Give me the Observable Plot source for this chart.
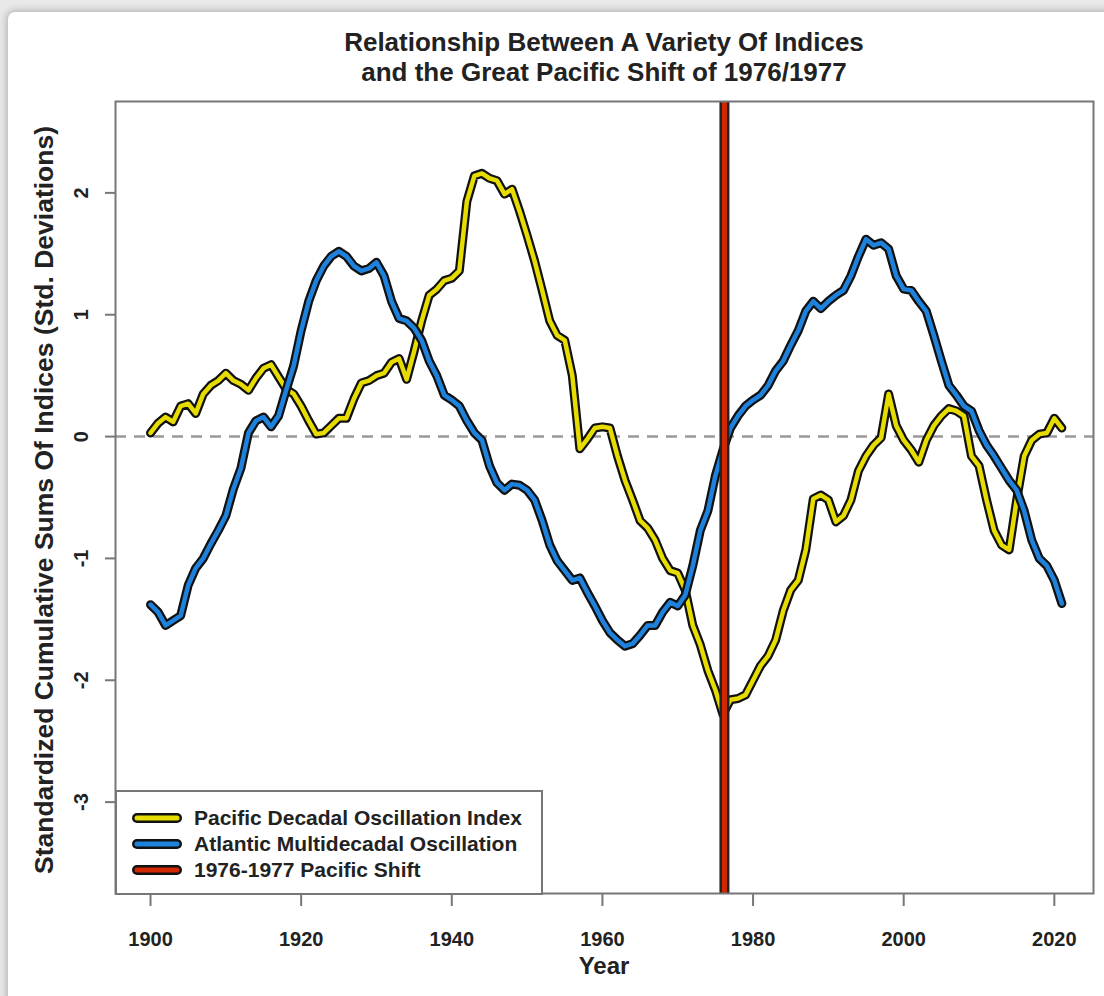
<!DOCTYPE html>
<html>
<head>
<meta charset="utf-8">
<script src="https://cdn.jsdelivr.net/npm/d3@7"></script>
<script src="https://cdn.jsdelivr.net/npm/@observablehq/plot@0.6"></script>
<style>
  html, body { margin: 0; padding: 0; }
  body { width: 1104px; height: 996px; overflow: hidden; background: #e9e9e9; position: relative; font-family: "Liberation Sans", Arial, Helvetica, sans-serif; color: #222; }
  #card { position: absolute; left: 8px; top: 12px; width: 1200px; height: 1100px; background: #fff; box-shadow: 0 0 7px 2px rgba(0,0,0,0.22); border-radius: 7px 0 0 0; }
  #chart { position: absolute; left: 0; top: 0; }
  .title { position: absolute; left: 0; width: 1208px; text-align: center; font-weight: bold; font-size: 26px; line-height: 30px; }
  #ylab { position: absolute; left: 44px; top: 500px; transform: translate(-50%, -50%) rotate(-90deg); white-space: nowrap; font-weight: bold; font-size: 26.5px; }
  #xlab { position: absolute; left: 0; width: 1208px; top: 952px; text-align: center; font-weight: bold; font-size: 24px; }
  #legend { position: absolute; left: 115px; top: 790px; width: 424px; height: 101px; border: 2px solid #777; background: #fff; box-sizing: content-box; }
  .lrow { position: absolute; left: 14px; height: 24px; display: flex; align-items: center; font-weight: bold; font-size: 21px; white-space: nowrap; }
  .lrow svg { margin-right: 11px; }
  g[aria-label="x-axis tick"] path, g[aria-label="y-axis tick"] path { stroke: #777; stroke-width: 2px; }
</style>
</head>
<body>
<div id="card"></div>
<div id="chart"></div>
<div class="title" style="top:27px">Relationship Between A Variety Of Indices</div>
<div class="title" style="top:57px">and the Great Pacific Shift of 1976/1977</div>
<div id="ylab">Standardized Cumulative Sums Of Indices (Std. Deviations)</div>
<div id="xlab">Year</div>
<div id="legend"></div>
<script>
// ---- data ----
const years = d3.range(1900, 2022);
const pdo = [
  0.03, 0.11, 0.16, 0.12, 0.25, 0.27, 0.19, 0.35, 0.42, 0.46,
  0.52, 0.46, 0.43, 0.38, 0.48, 0.56, 0.59, 0.49, 0.39, 0.35,
  0.25, 0.13, 0.02, 0.03, 0.09, 0.15, 0.15, 0.31, 0.44, 0.46,
  0.50, 0.52, 0.61, 0.64, 0.47, 0.70, 0.95, 1.16, 1.21, 1.28,
  1.30, 1.36, 1.93, 2.14, 2.16, 2.12, 2.10, 1.99, 2.03, 1.85,
  1.65, 1.44, 1.20, 0.95, 0.83, 0.79, 0.50, -0.10, -0.02, 0.07,
  0.08, 0.07, -0.16, -0.36, -0.52, -0.69, -0.75, -0.85, -1.00, -1.10,
  -1.12, -1.26, -1.55, -1.71, -1.92, -2.08, -2.28, -2.16, -2.15, -2.12,
  -2.00, -1.88, -1.80, -1.67, -1.43, -1.26, -1.18, -0.93, -0.51, -0.48,
  -0.52, -0.70, -0.65, -0.52, -0.28, -0.16, -0.07, -0.01, 0.35, 0.09,
  -0.03, -0.11, -0.21, -0.03, 0.09, 0.17, 0.23, 0.21, 0.17, -0.16,
  -0.24, -0.52, -0.77, -0.89, -0.93, -0.52, -0.16, -0.03, 0.02, 0.03,
  0.15, 0.07
];
const amo = [
  -1.38, -1.44, -1.55, -1.51, -1.47, -1.22, -1.08, -1.00, -0.88, -0.77,
  -0.65, -0.43, -0.26, 0.03, 0.13, 0.16, 0.08, 0.17, 0.38, 0.58,
  0.87, 1.11, 1.28, 1.40, 1.48, 1.52, 1.48, 1.40, 1.36, 1.38,
  1.43, 1.32, 1.11, 0.97, 0.95, 0.89, 0.79, 0.62, 0.50, 0.34,
  0.30, 0.25, 0.13, 0.03, -0.03, -0.24, -0.38, -0.44, -0.39, -0.40,
  -0.44, -0.52, -0.69, -0.89, -1.02, -1.10, -1.18, -1.16, -1.28, -1.39,
  -1.51, -1.61, -1.67, -1.72, -1.70, -1.63, -1.55, -1.55, -1.44, -1.36,
  -1.39, -1.30, -1.06, -0.77, -0.61, -0.32, -0.11, 0.07, 0.17, 0.25,
  0.30, 0.34, 0.42, 0.54, 0.62, 0.75, 0.87, 1.03, 1.11, 1.05,
  1.11, 1.16, 1.20, 1.32, 1.48, 1.62, 1.57, 1.59, 1.54, 1.32,
  1.21, 1.20, 1.11, 1.03, 0.83, 0.62, 0.42, 0.34, 0.25, 0.21,
  0.05, -0.07, -0.16, -0.26, -0.36, -0.44, -0.61, -0.85, -1.00, -1.06,
  -1.18, -1.37
];
const shiftYear = [1976.2];
const xTicks = [1900, 1920, 1940, 1960, 1980, 2000, 2020];
const yTicks = [-3, -2, -1, 0, 1, 2];
const seriesNames = ["Pacific Decadal Oscillation Index", "Atlantic Multidecadal Oscillation", "1976-1977 Pacific Shift"];
const seriesColors = ["#e6dc00", "#1e82dc", "#d22800"];

const pdoData = years.map((y, i) => ({year: y, value: pdo[i]}));
const amoData = years.map((y, i) => ({year: y, value: amo[i]}));

const chart = Plot.plot({
  width: 1104,
  height: 996,
  marginLeft: 115,
  marginRight: 11,
  marginTop: 101,
  marginBottom: 103,
  style: {background: "transparent", fontFamily: "'Liberation Sans', Arial, sans-serif", color: "#222"},
  x: {domain: [1895.35, 2025.2]},
  y: {domain: [-3.75, 2.75]},
  marks: [
    Plot.ruleY([0], {stroke: "#999", strokeWidth: 2.5, strokeDasharray: "11,8"}),
    Plot.line(pdoData, {x: "year", y: "value", stroke: "#111", strokeWidth: 9, strokeLinejoin: "round", strokeLinecap: "round"}),
    Plot.line(pdoData, {x: "year", y: "value", stroke: seriesColors[0], strokeWidth: 4.5, strokeLinejoin: "round", strokeLinecap: "round"}),
    Plot.line(amoData, {x: "year", y: "value", stroke: "#111", strokeWidth: 9, strokeLinejoin: "round", strokeLinecap: "round"}),
    Plot.line(amoData, {x: "year", y: "value", stroke: seriesColors[1], strokeWidth: 4.5, strokeLinejoin: "round", strokeLinecap: "round"}),
    Plot.ruleX(shiftYear, {stroke: "#222", strokeWidth: 10}),
    Plot.ruleX(shiftYear, {stroke: seriesColors[2], strokeWidth: 5}),
    Plot.frame({stroke: "#777", strokeWidth: 2}),
    Plot.axisX({ticks: xTicks, tickSize: 13, tickPadding: 25, fontSize: 20, fontWeight: "bold", tickFormat: d => String(d), label: null}),
    Plot.axisY({ticks: yTicks, tickSize: 10, tickFormat: () => "", label: null}),
    Plot.text(yTicks, {y: d => d, text: d => String(d), frameAnchor: "left", dx: -34, rotate: -90, textAnchor: "middle", lineAnchor: "middle", fontSize: 20, fontWeight: "bold", fill: "#222"})
  ]
});
document.getElementById("chart").appendChild(chart);

// legend
const legend = document.getElementById("legend");
const rowTops = [14, 40, 66];
seriesNames.forEach((name, i) => {
  const row = document.createElement("div");
  row.className = "lrow";
  row.style.top = rowTops[i] + "px";
  row.innerHTML = `<svg width="52" height="14"><line x1="6" y1="7" x2="46" y2="7" stroke="#111" stroke-width="10" stroke-linecap="round"/><line x1="6" y1="7" x2="46" y2="7" stroke="${seriesColors[i]}" stroke-width="5" stroke-linecap="round"/></svg><span>${name}</span>`;
  legend.appendChild(row);
});
</script>
</body>
</html>
